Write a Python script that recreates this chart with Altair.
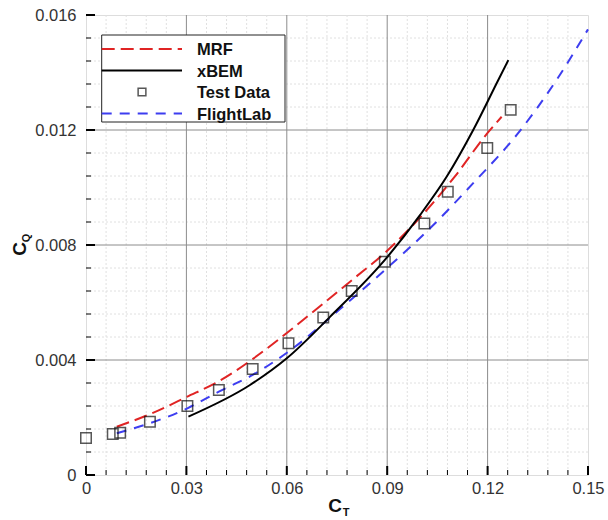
import altair as alt
import pandas as pd

# ---- data ----
mrf_ct = [0.0092, 0.02, 0.03, 0.04, 0.05, 0.06, 0.07, 0.08, 0.09, 0.10, 0.11, 0.12, 0.1242]
mrf_cq = [0.00168, 0.00216, 0.00271, 0.00328, 0.00405, 0.00494, 0.00588, 0.00683, 0.00780, 0.00898, 0.01035, 0.01190, 0.01246]

xbem_ct = [0.0306, 0.049, 0.06, 0.0729, 0.0893, 0.0998, 0.1078, 0.1157, 0.1232, 0.1262]
xbem_cq = [0.00203, 0.00313, 0.00406, 0.0055, 0.00748, 0.00904, 0.01038, 0.012, 0.01374, 0.01443]

test_ct = [0.0, 0.008, 0.0102, 0.0191, 0.0303, 0.0397, 0.0498, 0.0605, 0.0709, 0.0794, 0.0893, 0.1011, 0.1081, 0.1199, 0.1269]
test_cq = [0.00129, 0.00143, 0.00147, 0.00185, 0.0024, 0.00296, 0.00369, 0.00458, 0.00548, 0.0064, 0.00742, 0.00875, 0.00985, 0.01137, 0.0127]

fl_ct = [0.0092, 0.0303, 0.0397, 0.0498, 0.0605, 0.0759, 0.0893, 0.1028, 0.1157, 0.1287, 0.1406, 0.15]
fl_cq = [0.00145, 0.00232, 0.0029, 0.00348, 0.00429, 0.00577, 0.00713, 0.00858, 0.01015, 0.01183, 0.01374, 0.0155]

x_major = [0, 0.03, 0.06, 0.09, 0.12, 0.15]
y_major = [0, 0.004, 0.008, 0.012, 0.016]
x_minor = [0.006, 0.012, 0.018, 0.024, 0.036, 0.042, 0.048, 0.054, 0.066, 0.072, 0.078, 0.084,
           0.096, 0.102, 0.108, 0.114, 0.126, 0.132, 0.138, 0.144]
y_minor = [0.0008, 0.0016, 0.0024, 0.0032, 0.0048, 0.0056, 0.0064, 0.0072, 0.0088, 0.0096, 0.0104,
           0.0112, 0.0128, 0.0136, 0.0144, 0.0152]

legend_names = ["MRF", "xBEM", "Test Data", "FlightLab"]

W, H = 502, 460
FONT = "Liberation Sans"

xs = alt.Scale(domain=[0, 0.15], nice=False, zero=False)
ys = alt.Scale(domain=[0, 0.016], nice=False, zero=False)
xax = alt.Axis(values=x_major, format="~g", title=None, grid=False, ticks=False, domain=False,
               labelFont=FONT, labelFontSize=16.5, labelColor="#333", labelPadding=5, labelFlush=False)
yax = alt.Axis(values=y_major, format="~g", title=None, grid=False, ticks=False, domain=False,
               labelFont=FONT, labelFontSize=16.5, labelColor="#333", labelPadding=10, labelFlush=False)

def X(f):
    return alt.X(f, type="quantitative", scale=xs, axis=xax)

def Y(f):
    return alt.Y(f, type="quantitative", scale=ys, axis=yax)

one = pd.DataFrame({"a": [0]})

# grids
gx_minor = alt.Chart(pd.DataFrame({"v": x_minor})).mark_rule(color="#e0e0e0", strokeWidth=1, strokeDash=[2, 2]).encode(x=X("v"))
gy_minor = alt.Chart(pd.DataFrame({"v": y_minor})).mark_rule(color="#e0e0e0", strokeWidth=1, strokeDash=[2, 2]).encode(y=Y("v"))
gx_major = alt.Chart(pd.DataFrame({"v": x_major[1:-1]})).mark_rule(color="#8c8c8c", strokeWidth=1).encode(x=X("v"))
gy_major = alt.Chart(pd.DataFrame({"v": y_major[1:-1]})).mark_rule(color="#8c8c8c", strokeWidth=1).encode(y=Y("v"))

# inward ticks
tx_major = alt.Chart(pd.DataFrame({"v": x_major})).mark_rule(color="black", strokeWidth=2).encode(
    x=X("v"), y=alt.value(H), y2=alt.value(H - 9))
tx_minor = alt.Chart(pd.DataFrame({"v": x_minor})).mark_rule(color="black", strokeWidth=1).encode(
    x=X("v"), y=alt.value(H), y2=alt.value(H - 5))
ty_major = alt.Chart(pd.DataFrame({"v": y_major})).mark_rule(color="black", strokeWidth=2).encode(
    y=Y("v"), x=alt.value(0), x2=alt.value(9))
ty_minor = alt.Chart(pd.DataFrame({"v": y_minor})).mark_rule(color="black", strokeWidth=1).encode(
    y=Y("v"), x=alt.value(0), x2=alt.value(5))

def line(ctv, cqv, color, dash=None, width=2):
    kw = dict(color=color, strokeWidth=width, interpolate="monotone")
    if dash:
        kw["strokeDash"] = dash
    return alt.Chart(pd.DataFrame({"ct": ctv, "cq": cqv})).mark_line(**kw).encode(x=X("ct"), y=Y("cq"))

mrf = line(mrf_ct, mrf_cq, "#e02424", [13, 6])
xbem = line(xbem_ct, xbem_cq, "black", None, 2)
fl = line(fl_ct, fl_cq, "#3d3df0", [10, 8])
test = alt.Chart(pd.DataFrame({"ct": test_ct, "cq": test_cq})).mark_point(
    shape="square", size=110, filled=False, color="#111", strokeWidth=1.5).encode(x=X("ct"), y=Y("cq"))

# legend
lx0, lx1, ly0, ly1 = 15.7, 199, 20, 107
rows = [34, 55.5, 77, 98.5]
leg_box = alt.Chart(one).mark_rect(fill="white", stroke="#222", strokeWidth=1).encode(
    x=alt.value(lx0), x2=alt.value(lx1), y=alt.value(ly0), y2=alt.value(ly1))
leg_mrf = alt.Chart(one).mark_rule(color="#e02424", strokeWidth=2, strokeDash=[13, 6]).encode(
    x=alt.value(lx0), x2=alt.value(96), y=alt.value(rows[0]))
leg_xbem = alt.Chart(one).mark_rule(color="black", strokeWidth=2).encode(
    x=alt.value(lx0), x2=alt.value(96), y=alt.value(rows[1]))
leg_test = alt.Chart(one).mark_point(shape="square", size=60, filled=False, color="#111", strokeWidth=1.5).encode(
    x=alt.value(56), y=alt.value(rows[2]))
leg_fl = alt.Chart(one).mark_rule(color="#3d3df0", strokeWidth=2, strokeDash=[10, 8]).encode(
    x=alt.value(lx0), x2=alt.value(96), y=alt.value(rows[3]))
leg_texts = [
    alt.Chart(pd.DataFrame({"name": [n]})).mark_text(
        align="left", baseline="middle", font=FONT, fontSize=16.5, fontWeight="bold", color="#111").encode(
        x=alt.value(111), y=alt.value(r + 1), text="name:N")
    for n, r in zip(legend_names, rows)
]

# axis titles
t_style = dict(font=FONT, fontWeight="bold", color="#111")
xt_c = alt.Chart(pd.DataFrame({"t": ["C"]})).mark_text(fontSize=19, baseline="middle", align="center", **t_style).encode(
    x=alt.value(249), y=alt.value(H + 31), text="t:N")
xt_s = alt.Chart(pd.DataFrame({"t": ["T"]})).mark_text(fontSize=11, baseline="middle", align="center", **t_style).encode(
    x=alt.value(260), y=alt.value(H + 38), text="t:N")
yt_c = alt.Chart(pd.DataFrame({"t": ["C"]})).mark_text(fontSize=19, baseline="middle", align="center", angle=270, **t_style).encode(
    x=alt.value(-66), y=alt.value(234), text="t:N")
yt_s = alt.Chart(pd.DataFrame({"t": ["Q"]})).mark_text(fontSize=11, baseline="middle", align="center", angle=270, **t_style).encode(
    x=alt.value(-59), y=alt.value(223), text="t:N")

chart = alt.layer(
    gx_minor, gy_minor, gx_major, gy_major,
    fl, mrf, xbem, test,
    tx_major, tx_minor, ty_major, ty_minor,
    leg_box, leg_mrf, leg_xbem, leg_test, leg_fl, *leg_texts,
    xt_c, xt_s, yt_c, yt_s,
).properties(
    width=W, height=H,
    autosize=alt.AutoSizeParams(type="none"),
    padding={"left": 86, "top": 15, "right": 20, "bottom": 45},
).configure_view(stroke="black", strokeWidth=2.5).configure(background="white")

chart.save("out.html", embed_options={"renderer": "svg", "actions": False})
